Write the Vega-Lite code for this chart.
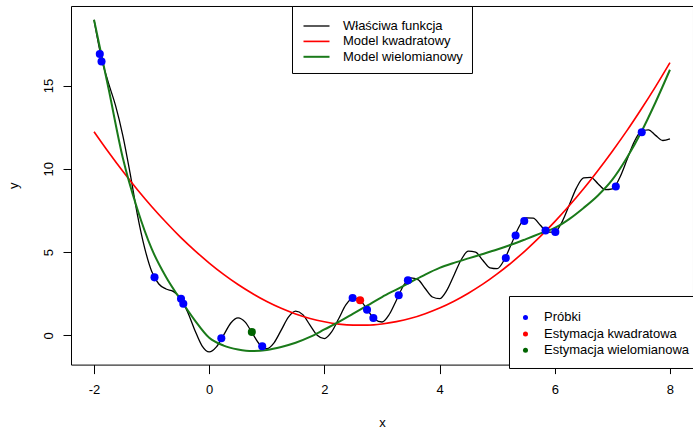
{
  "$schema": "https://vega.github.io/schema/vega-lite/v6.json",
  "width": 622,
  "height": 358.6,
  "autosize": "none",
  "padding": {"left": 71, "top": 6, "right": 0, "bottom": 66},
  "background": "white",
  "config": {
    "font": "Liberation Sans",
    "view": {"stroke": "black", "strokeWidth": 1},
    "axis": {"grid": false, "domain": false, "tickColor": "black", "labelColor": "black", "titleColor": "black", "labelFontSize": 13, "titleFontSize": 13, "titleFontWeight": "normal", "labelFont": "Liberation Sans", "titleFont": "Liberation Sans"}
  },
  "datasets": {
    "curves": [
      {"series": "Właściwa funkcja", "x": -2.0, "y": 18.95},
      {"series": "Właściwa funkcja", "x": -1.875, "y": 16.7},
      {"series": "Właściwa funkcja", "x": -1.75, "y": 15.16},
      {"series": "Właściwa funkcja", "x": -1.625, "y": 13.78},
      {"series": "Właściwa funkcja", "x": -1.5, "y": 12.0},
      {"series": "Właściwa funkcja", "x": -1.375, "y": 9.75},
      {"series": "Właściwa funkcja", "x": -1.25, "y": 7.3},
      {"series": "Właściwa funkcja", "x": -1.125, "y": 5.3},
      {"series": "Właściwa funkcja", "x": -1.0, "y": 3.85},
      {"series": "Właściwa funkcja", "x": -0.875, "y": 3.08},
      {"series": "Właściwa funkcja", "x": -0.75, "y": 2.78},
      {"series": "Właściwa funkcja", "x": -0.625, "y": 2.64},
      {"series": "Właściwa funkcja", "x": -0.5, "y": 2.24},
      {"series": "Właściwa funkcja", "x": -0.375, "y": 1.4},
      {"series": "Właściwa funkcja", "x": -0.25, "y": 0.31},
      {"series": "Właściwa funkcja", "x": -0.125, "y": -0.63},
      {"series": "Właściwa funkcja", "x": 0.0, "y": -1.0},
      {"series": "Właściwa funkcja", "x": 0.125, "y": -0.7},
      {"series": "Właściwa funkcja", "x": 0.25, "y": 0.01},
      {"series": "Właściwa funkcja", "x": 0.375, "y": 0.74},
      {"series": "Właściwa funkcja", "x": 0.5, "y": 1.05},
      {"series": "Właściwa funkcja", "x": 0.625, "y": 0.79},
      {"series": "Właściwa funkcja", "x": 0.75, "y": 0.11},
      {"series": "Właściwa funkcja", "x": 0.875, "y": -0.55},
      {"series": "Właściwa funkcja", "x": 1.0, "y": -0.8},
      {"series": "Właściwa funkcja", "x": 1.125, "y": -0.45},
      {"series": "Właściwa funkcja", "x": 1.25, "y": 0.31},
      {"series": "Właściwa funkcja", "x": 1.375, "y": 1.09},
      {"series": "Właściwa funkcja", "x": 1.5, "y": 1.45},
      {"series": "Właściwa funkcja", "x": 1.625, "y": 1.24},
      {"series": "Właściwa funkcja", "x": 1.75, "y": 0.61},
      {"series": "Właściwa funkcja", "x": 1.875, "y": 0.0},
      {"series": "Właściwa funkcja", "x": 2.0, "y": -0.2},
      {"series": "Właściwa funkcja", "x": 2.125, "y": 0.2},
      {"series": "Właściwa funkcja", "x": 2.25, "y": 1.01},
      {"series": "Właściwa funkcja", "x": 2.375, "y": 1.84},
      {"series": "Właściwa funkcja", "x": 2.5, "y": 2.25},
      {"series": "Właściwa funkcja", "x": 2.625, "y": 2.09},
      {"series": "Właściwa funkcja", "x": 2.75, "y": 1.51},
      {"series": "Właściwa funkcja", "x": 2.875, "y": 0.95},
      {"series": "Właściwa funkcja", "x": 3.0, "y": 0.8},
      {"series": "Właściwa funkcja", "x": 3.125, "y": 1.25},
      {"series": "Właściwa funkcja", "x": 3.25, "y": 2.11},
      {"series": "Właściwa funkcja", "x": 3.375, "y": 2.99},
      {"series": "Właściwa funkcja", "x": 3.5, "y": 3.45},
      {"series": "Właściwa funkcja", "x": 3.625, "y": 3.34},
      {"series": "Właściwa funkcja", "x": 3.75, "y": 2.81},
      {"series": "Właściwa funkcja", "x": 3.875, "y": 2.3},
      {"series": "Właściwa funkcja", "x": 4.0, "y": 2.2},
      {"series": "Właściwa funkcja", "x": 4.125, "y": 2.7},
      {"series": "Właściwa funkcja", "x": 4.25, "y": 3.61},
      {"series": "Właściwa funkcja", "x": 4.375, "y": 4.54},
      {"series": "Właściwa funkcja", "x": 4.5, "y": 5.05},
      {"series": "Właściwa funkcja", "x": 4.625, "y": 4.99},
      {"series": "Właściwa funkcja", "x": 4.75, "y": 4.51},
      {"series": "Właściwa funkcja", "x": 4.875, "y": 4.05},
      {"series": "Właściwa funkcja", "x": 5.0, "y": 4.0},
      {"series": "Właściwa funkcja", "x": 5.125, "y": 4.55},
      {"series": "Właściwa funkcja", "x": 5.25, "y": 5.51},
      {"series": "Właściwa funkcja", "x": 5.375, "y": 6.49},
      {"series": "Właściwa funkcja", "x": 5.5, "y": 7.05},
      {"series": "Właściwa funkcja", "x": 5.625, "y": 7.04},
      {"series": "Właściwa funkcja", "x": 5.75, "y": 6.61},
      {"series": "Właściwa funkcja", "x": 5.875, "y": 6.2},
      {"series": "Właściwa funkcja", "x": 6.0, "y": 6.2},
      {"series": "Właściwa funkcja", "x": 6.125, "y": 6.8},
      {"series": "Właściwa funkcja", "x": 6.25, "y": 7.81},
      {"series": "Właściwa funkcja", "x": 6.375, "y": 8.84},
      {"series": "Właściwa funkcja", "x": 6.5, "y": 9.45},
      {"series": "Właściwa funkcja", "x": 6.625, "y": 9.49},
      {"series": "Właściwa funkcja", "x": 6.75, "y": 9.11},
      {"series": "Właściwa funkcja", "x": 6.875, "y": 8.75},
      {"series": "Właściwa funkcja", "x": 7.0, "y": 8.8},
      {"series": "Właściwa funkcja", "x": 7.125, "y": 9.45},
      {"series": "Właściwa funkcja", "x": 7.25, "y": 10.51},
      {"series": "Właściwa funkcja", "x": 7.375, "y": 11.59},
      {"series": "Właściwa funkcja", "x": 7.5, "y": 12.25},
      {"series": "Właściwa funkcja", "x": 7.625, "y": 12.34},
      {"series": "Właściwa funkcja", "x": 7.75, "y": 12.01},
      {"series": "Właściwa funkcja", "x": 7.875, "y": 11.7},
      {"series": "Właściwa funkcja", "x": 8.0, "y": 11.8},

      {"series": "Model kwadratowy", "x": -2.0, "y": 12.23},
      {"series": "Model kwadratowy", "x": -1.75, "y": 11.01},
      {"series": "Model kwadratowy", "x": -1.5, "y": 9.85},
      {"series": "Model kwadratowy", "x": -1.25, "y": 8.76},
      {"series": "Model kwadratowy", "x": -1.0, "y": 7.74},
      {"series": "Model kwadratowy", "x": -0.75, "y": 6.79},
      {"series": "Model kwadratowy", "x": -0.5, "y": 5.9},
      {"series": "Model kwadratowy", "x": -0.25, "y": 5.09},
      {"series": "Model kwadratowy", "x": 0.0, "y": 4.34},
      {"series": "Model kwadratowy", "x": 0.25, "y": 3.66},
      {"series": "Model kwadratowy", "x": 0.5, "y": 3.05},
      {"series": "Model kwadratowy", "x": 0.75, "y": 2.51},
      {"series": "Model kwadratowy", "x": 1.0, "y": 2.03},
      {"series": "Model kwadratowy", "x": 1.25, "y": 1.62},
      {"series": "Model kwadratowy", "x": 1.5, "y": 1.28},
      {"series": "Model kwadratowy", "x": 1.75, "y": 1.01},
      {"series": "Model kwadratowy", "x": 2.0, "y": 0.81},
      {"series": "Model kwadratowy", "x": 2.25, "y": 0.67},
      {"series": "Model kwadratowy", "x": 2.5, "y": 0.61},
      {"series": "Model kwadratowy", "x": 2.75, "y": 0.61},
      {"series": "Model kwadratowy", "x": 3.0, "y": 0.68},
      {"series": "Model kwadratowy", "x": 3.25, "y": 0.82},
      {"series": "Model kwadratowy", "x": 3.5, "y": 1.02},
      {"series": "Model kwadratowy", "x": 3.75, "y": 1.3},
      {"series": "Model kwadratowy", "x": 4.0, "y": 1.64},
      {"series": "Model kwadratowy", "x": 4.25, "y": 2.05},
      {"series": "Model kwadratowy", "x": 4.5, "y": 2.53},
      {"series": "Model kwadratowy", "x": 4.75, "y": 3.07},
      {"series": "Model kwadratowy", "x": 5.0, "y": 3.69},
      {"series": "Model kwadratowy", "x": 5.25, "y": 4.37},
      {"series": "Model kwadratowy", "x": 5.5, "y": 5.12},
      {"series": "Model kwadratowy", "x": 5.75, "y": 5.94},
      {"series": "Model kwadratowy", "x": 6.0, "y": 6.83},
      {"series": "Model kwadratowy", "x": 6.25, "y": 7.78},
      {"series": "Model kwadratowy", "x": 6.5, "y": 8.8},
      {"series": "Model kwadratowy", "x": 6.75, "y": 9.9},
      {"series": "Model kwadratowy", "x": 7.0, "y": 11.06},
      {"series": "Model kwadratowy", "x": 7.25, "y": 12.28},
      {"series": "Model kwadratowy", "x": 7.5, "y": 13.58},
      {"series": "Model kwadratowy", "x": 7.75, "y": 14.94},
      {"series": "Model kwadratowy", "x": 8.0, "y": 16.38},

      {"series": "Model wielomianowy", "x": -2.0, "y": 18.95},
      {"series": "Model wielomianowy", "x": -1.75, "y": 14.85},
      {"series": "Model wielomianowy", "x": -1.5, "y": 10.65},
      {"series": "Model wielomianowy", "x": -1.25, "y": 7.6},
      {"series": "Model wielomianowy", "x": -1.0, "y": 5.2},
      {"series": "Model wielomianowy", "x": -0.75, "y": 3.5},
      {"series": "Model wielomianowy", "x": -0.5, "y": 2.15},
      {"series": "Model wielomianowy", "x": -0.25, "y": 0.9},
      {"series": "Model wielomianowy", "x": 0.0, "y": -0.15},
      {"series": "Model wielomianowy", "x": 0.25, "y": -0.62},
      {"series": "Model wielomianowy", "x": 0.5, "y": -0.85},
      {"series": "Model wielomianowy", "x": 0.75, "y": -0.95},
      {"series": "Model wielomianowy", "x": 1.0, "y": -0.88},
      {"series": "Model wielomianowy", "x": 1.25, "y": -0.7},
      {"series": "Model wielomianowy", "x": 1.5, "y": -0.45},
      {"series": "Model wielomianowy", "x": 1.75, "y": -0.1},
      {"series": "Model wielomianowy", "x": 2.0, "y": 0.35},
      {"series": "Model wielomianowy", "x": 2.25, "y": 0.8},
      {"series": "Model wielomianowy", "x": 2.5, "y": 1.3},
      {"series": "Model wielomianowy", "x": 2.75, "y": 1.8},
      {"series": "Model wielomianowy", "x": 3.0, "y": 2.3},
      {"series": "Model wielomianowy", "x": 3.25, "y": 2.75},
      {"series": "Model wielomianowy", "x": 3.5, "y": 3.2},
      {"series": "Model wielomianowy", "x": 3.75, "y": 3.65},
      {"series": "Model wielomianowy", "x": 4.0, "y": 4.05},
      {"series": "Model wielomianowy", "x": 4.25, "y": 4.35},
      {"series": "Model wielomianowy", "x": 4.5, "y": 4.62},
      {"series": "Model wielomianowy", "x": 4.75, "y": 4.88},
      {"series": "Model wielomianowy", "x": 5.0, "y": 5.15},
      {"series": "Model wielomianowy", "x": 5.25, "y": 5.45},
      {"series": "Model wielomianowy", "x": 5.5, "y": 5.78},
      {"series": "Model wielomianowy", "x": 5.75, "y": 6.12},
      {"series": "Model wielomianowy", "x": 6.0, "y": 6.45},
      {"series": "Model wielomianowy", "x": 6.25, "y": 6.98},
      {"series": "Model wielomianowy", "x": 6.5, "y": 7.65},
      {"series": "Model wielomianowy", "x": 6.75, "y": 8.4},
      {"series": "Model wielomianowy", "x": 7.0, "y": 9.35},
      {"series": "Model wielomianowy", "x": 7.25, "y": 10.65},
      {"series": "Model wielomianowy", "x": 7.5, "y": 12.2},
      {"series": "Model wielomianowy", "x": 7.75, "y": 14.0},
      {"series": "Model wielomianowy", "x": 8.0, "y": 15.95}
    ],
    "points": [
      {"kind": "Próbki", "x": -1.9, "y": 16.9},
      {"kind": "Próbki", "x": -1.87, "y": 16.45},
      {"kind": "Próbki", "x": -0.95, "y": 3.48},
      {"kind": "Próbki", "x": -0.49, "y": 2.2},
      {"kind": "Próbki", "x": -0.45, "y": 1.9},
      {"kind": "Próbki", "x": 0.21, "y": -0.18},
      {"kind": "Próbki", "x": 0.92, "y": -0.66},
      {"kind": "Próbki", "x": 2.49, "y": 2.24},
      {"kind": "Próbki", "x": 2.74, "y": 1.54},
      {"kind": "Próbki", "x": 2.85, "y": 1.04},
      {"kind": "Próbki", "x": 3.29, "y": 2.4},
      {"kind": "Próbki", "x": 3.45, "y": 3.3},
      {"kind": "Próbki", "x": 5.15, "y": 4.64},
      {"kind": "Próbki", "x": 5.32, "y": 6.0},
      {"kind": "Próbki", "x": 5.47, "y": 6.86},
      {"kind": "Próbki", "x": 5.84, "y": 6.3},
      {"kind": "Próbki", "x": 6.01, "y": 6.2},
      {"kind": "Próbki", "x": 7.06, "y": 8.94},
      {"kind": "Próbki", "x": 7.51, "y": 12.2},
      {"kind": "Estymacja kwadratowa", "x": 2.62, "y": 2.1},
      {"kind": "Estymacja wielomianowa", "x": 0.74, "y": 0.2}
    ]
  },
  "layer": [
    {
      "data": {"name": "curves"},
      "mark": {"type": "line", "interpolate": "monotone", "clip": true},
      "encoding": {
        "x": {"field": "x", "type": "quantitative", "scale": {"domain": [-2.4, 8.4], "nice": false, "zero": false},
              "axis": {"values": [-2, 0, 2, 4, 6, 8], "labelExpr": "'' + datum.value", "tickSize": 9, "labelPadding": 10, "title": "x", "titlePadding": 20}},
        "y": {"field": "y", "type": "quantitative", "scale": {"domain": [-1.76, 19.78], "nice": false, "zero": false},
              "axis": {"values": [0, 5, 10, 15], "labelExpr": "'' + datum.value", "tickSize": 8, "labelAngle": -90, "labelAlign": "center", "labelBaseline": "alphabetic", "labelPadding": 11, "title": "y", "titlePadding": 22}},
        "stroke": {"field": "series", "type": "nominal",
                   "scale": {"domain": ["Właściwa funkcja", "Model kwadratowy", "Model wielomianowy"], "range": ["#000000", "#ff0000", "#1a7a1a"]},
                   "legend": {"orient": "none", "legendX": 221, "legendY": 0, "title": " ", "titleFontSize": 1, "titlePadding": 3.5, "symbolType": "M-2.6,0H2.6", "symbolSize": 100, "symbolStrokeWidth": 2, "symbolOffset": 9, "labelFontSize": 13, "labelFont": "Liberation Sans", "labelColor": "black", "strokeColor": "black", "fillColor": "white", "padding": 9, "labelOffset": 20, "rowPadding": 1.4}},
        "strokeWidth": {"field": "series", "type": "nominal", "scale": {"domain": ["Właściwa funkcja", "Model kwadratowy", "Model wielomianowy"], "range": [1.3, 2, 2]}, "legend": null},
        "order": {"field": "x", "type": "quantitative"}
      }
    },
    {
      "data": {"name": "points"},
      "mark": {"type": "circle", "size": 65, "opacity": 1},
      "encoding": {
        "x": {"field": "x", "type": "quantitative"},
        "y": {"field": "y", "type": "quantitative"},
        "fill": {"field": "kind", "type": "nominal",
                 "scale": {"domain": ["Próbki", "Estymacja kwadratowa", "Estymacja wielomianowa"], "range": ["#0000ff", "#ff0000", "#006400"]},
                 "legend": {"orient": "none", "legendX": 438, "legendY": 290, "title": " ", "titleFontSize": 1, "titlePadding": 4, "symbolType": "circle", "symbolSize": 25, "symbolOpacity": 1, "symbolStrokeWidth": 0, "labelFontSize": 13, "labelFont": "Liberation Sans", "labelColor": "black", "strokeColor": "black", "fillColor": "white", "padding": 10, "labelOffset": 12, "rowPadding": 2.4}}
      }
    }
  ]
}
